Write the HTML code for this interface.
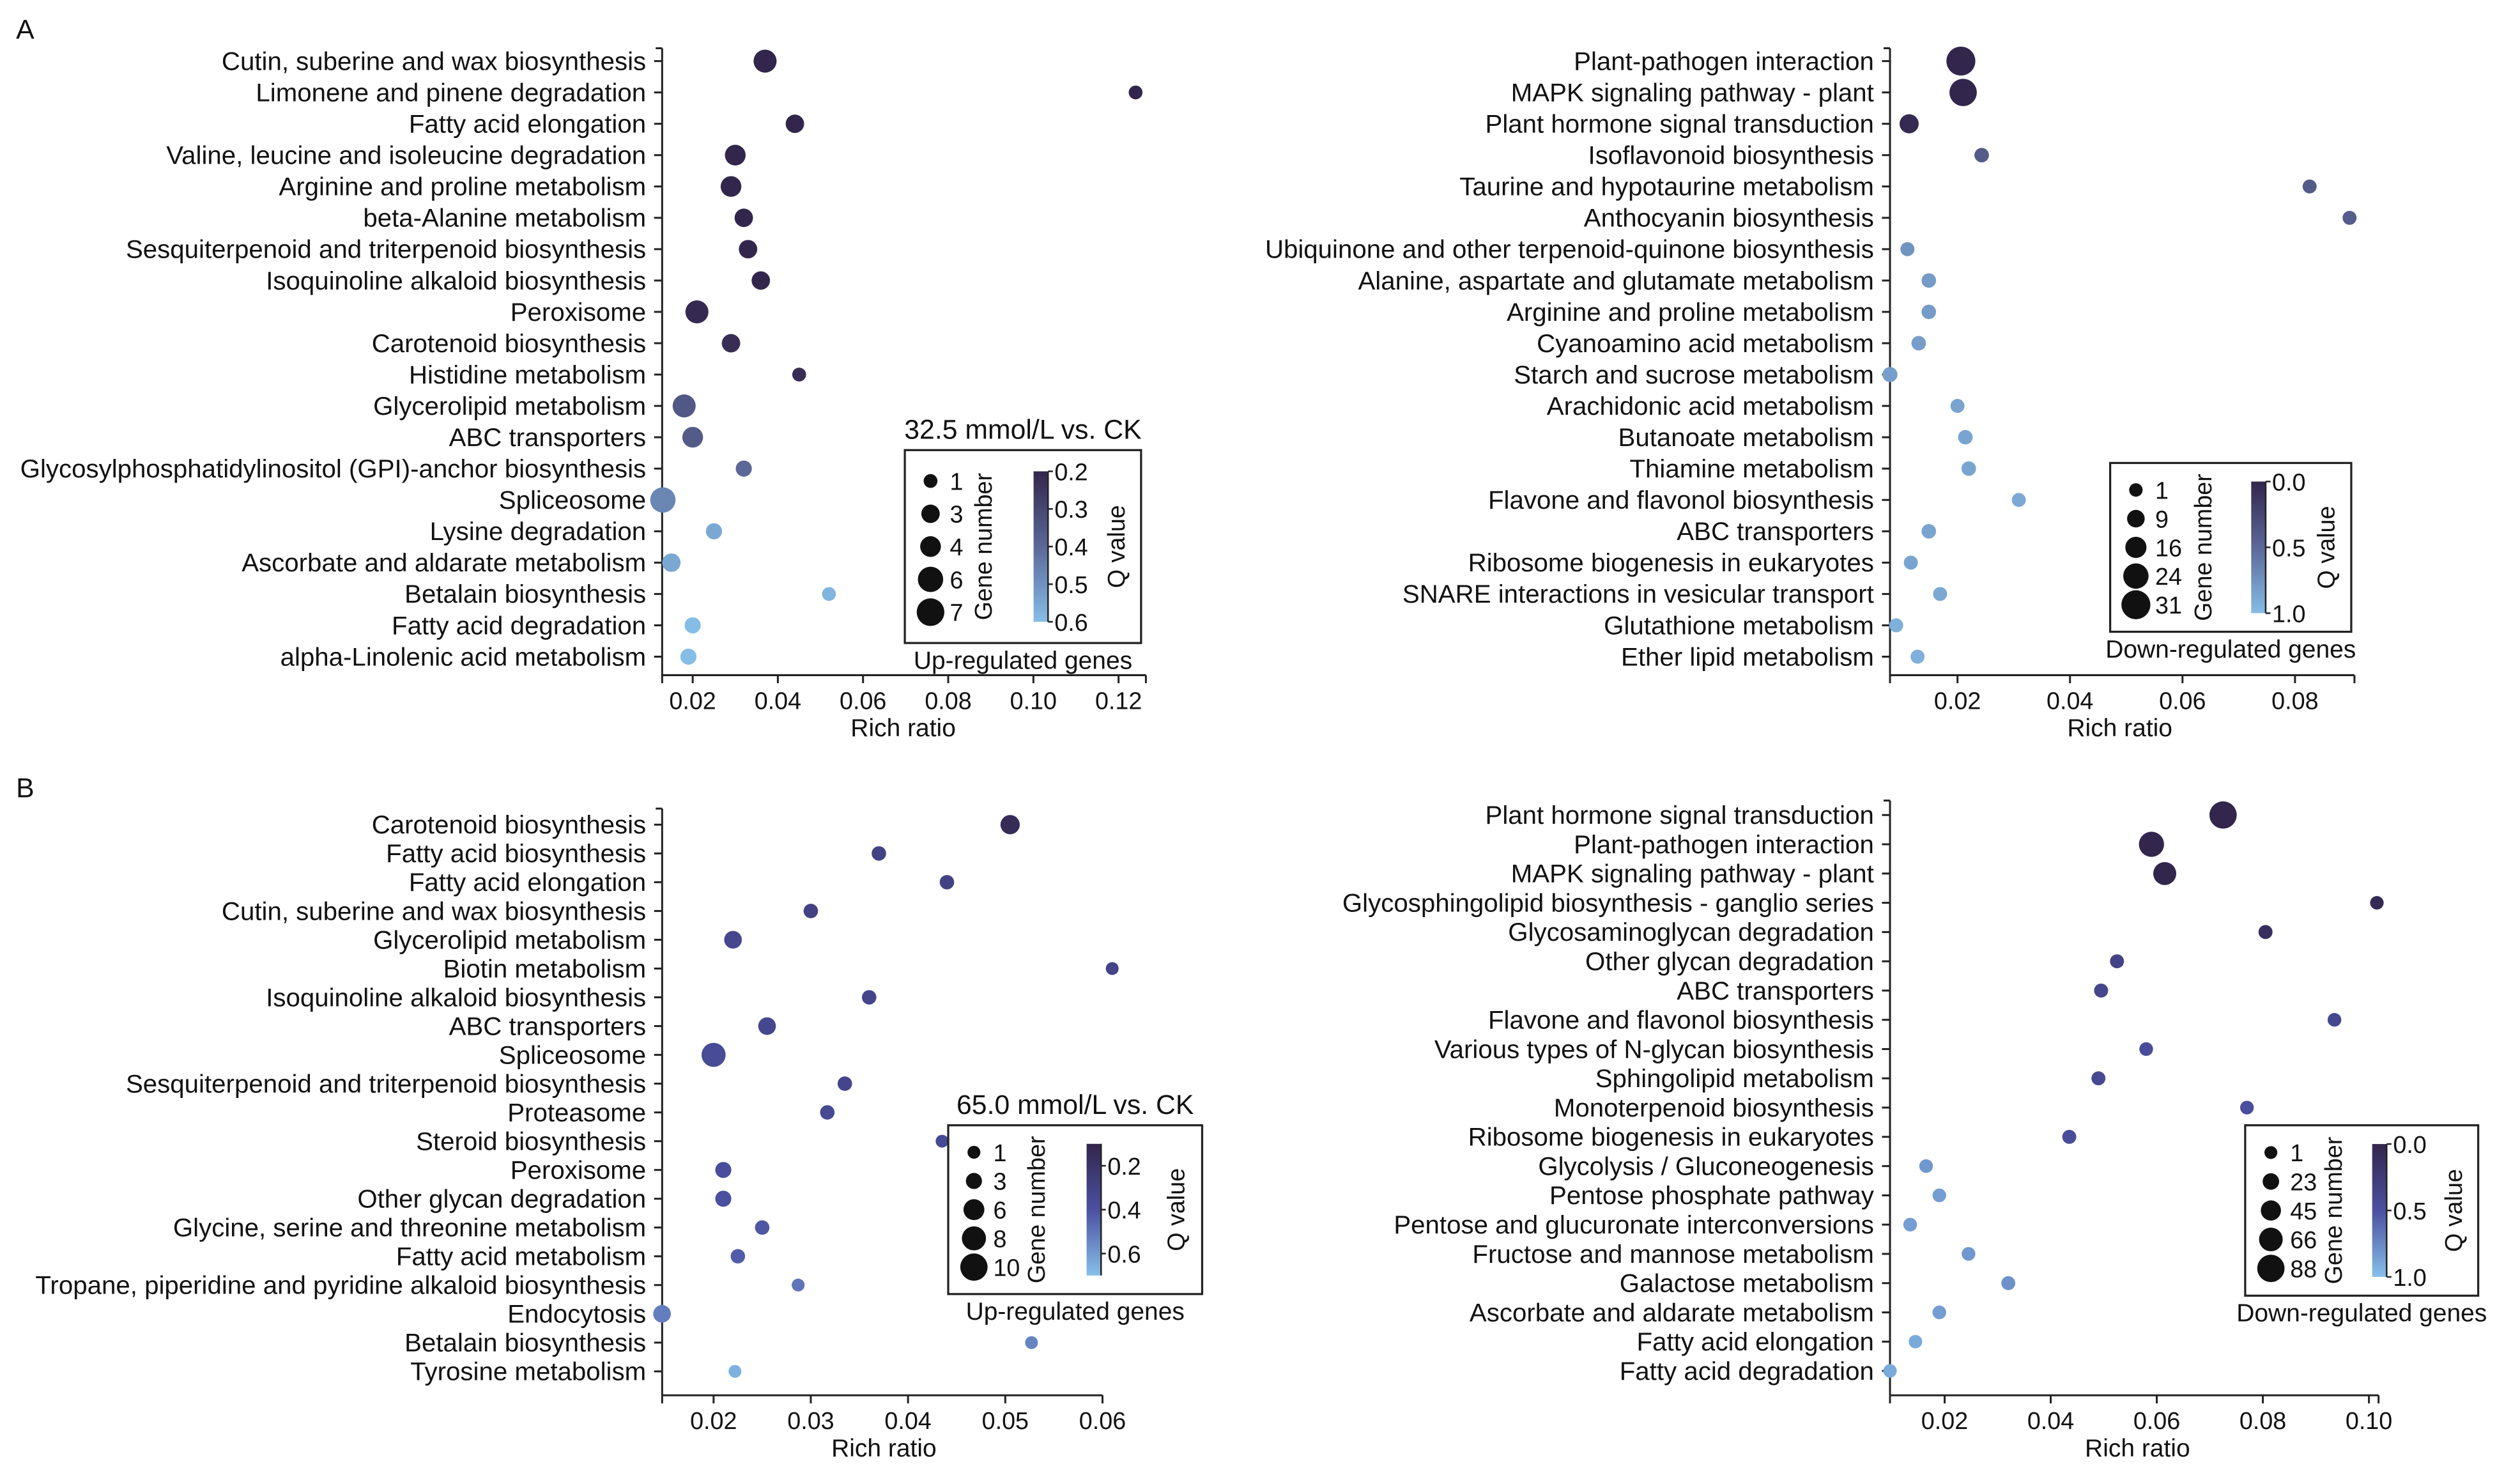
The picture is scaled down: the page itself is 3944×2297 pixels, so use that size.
<!DOCTYPE html>
<html><head><meta charset="utf-8"><style>
html,body{margin:0;padding:0;background:#fff}
svg{display:block}
text{font-family:"Liberation Sans",Arial,sans-serif;fill:#111}
</style></head><body>
<svg id="fig" xmlns="http://www.w3.org/2000/svg" width="3944" height="2297" viewBox="0 0 1568 913.2">
<defs>
<linearGradient id="gA" x1="0" y1="0" x2="0" y2="1"><stop offset="0" stop-color="#33264d"/><stop offset="0.5" stop-color="#5b6898"/><stop offset="1" stop-color="#86bde6"/></linearGradient>
<linearGradient id="gB" x1="0" y1="0" x2="0" y2="1"><stop offset="0" stop-color="#33264d"/><stop offset="0.5" stop-color="#4b50a0"/><stop offset="1" stop-color="#86c0e8"/></linearGradient>
</defs>
<rect width="1568" height="913.2" fill="#fff"/>
<text x="10" y="24" font-size="17">A</text>
<text x="10" y="496" font-size="17">B</text>
</svg>
<script>
// ---------- Panel A left (32.5 mmol/L, up) ----------
const aUpPathways=["Cutin, suberine and wax biosynthesis","Limonene and pinene degradation","Fatty acid elongation","Valine, leucine and isoleucine degradation","Arginine and proline metabolism","beta-Alanine metabolism","Sesquiterpenoid and triterpenoid biosynthesis","Isoquinoline alkaloid biosynthesis","Peroxisome","Carotenoid biosynthesis","Histidine metabolism","Glycerolipid metabolism","ABC transporters","Glycosylphosphatidylinositol (GPI)-anchor biosynthesis","Spliceosome","Lysine degradation","Ascorbate and aldarate metabolism","Betalain biosynthesis","Fatty acid degradation","alpha-Linolenic acid metabolism"];
const aUpRatio=[0.037,0.124,0.044,0.030,0.029,0.032,0.033,0.036,0.021,0.029,0.045,0.018,0.020,0.032,0.013,0.025,0.015,0.052,0.020,0.019];
const aUpGenes=[5,1,3,4,4,3,3,3,5,3,1,5,4,2,6,2,3,1,2,2];
const aUpQ=[0.2,0.2,0.2,0.2,0.2,0.2,0.2,0.2,0.21,0.22,0.22,0.35,0.36,0.4,0.47,0.55,0.55,0.58,0.6,0.6];
const aUpXTicks=[0.02,0.04,0.06,0.08,0.10,0.12];
const aUpXTickLabels=["0.02","0.04","0.06","0.08","0.10","0.12"];
const aUpSizeLegend=[1,3,4,6,7];
const aUpQTicks=[0.2,0.3,0.4,0.5,0.6];

// ---------- Panel A right (32.5 mmol/L, down) ----------
const aDnPathways=["Plant-pathogen interaction","MAPK signaling pathway - plant","Plant hormone signal transduction","Isoflavonoid biosynthesis","Taurine and hypotaurine metabolism","Anthocyanin biosynthesis","Ubiquinone and other terpenoid-quinone biosynthesis","Alanine, aspartate and glutamate metabolism","Arginine and proline metabolism","Cyanoamino acid metabolism","Starch and sucrose metabolism","Arachidonic acid metabolism","Butanoate metabolism","Thiamine metabolism","Flavone and flavonol biosynthesis","ABC transporters","Ribosome biogenesis in eukaryotes","SNARE interactions in vesicular transport","Glutathione metabolism","Ether lipid metabolism"];
const aDnRatio=[0.0206,0.021,0.0114,0.0243,0.0826,0.0897,0.0111,0.0149,0.0149,0.0131,0.008,0.020,0.0214,0.022,0.0309,0.0149,0.0117,0.0169,0.0091,0.0129];
const aDnGenes=[31,28,12,3,2,2,2,3,3,3,4,2,3,3,2,3,2,2,2,2];
const aDnQ=[0.0,0.0,0.03,0.4,0.4,0.42,0.75,0.8,0.8,0.82,0.82,0.85,0.85,0.85,0.88,0.85,0.85,0.88,0.92,0.92];
const aDnXTicks=[0.02,0.04,0.06,0.08];
const aDnXTickLabels=["0.02","0.04","0.06","0.08"];
const aDnSizeLegend=[1,9,16,24,31];
const aDnQTicks=[0.0,0.5,1.0];

// ---------- Panel B left (65.0 mmol/L, up) ----------
const bUpPathways=["Carotenoid biosynthesis","Fatty acid biosynthesis","Fatty acid elongation","Cutin, suberine and wax biosynthesis","Glycerolipid metabolism","Biotin metabolism","Isoquinoline alkaloid biosynthesis","ABC transporters","Spliceosome","Sesquiterpenoid and triterpenoid biosynthesis","Proteasome","Steroid biosynthesis","Peroxisome","Other glycan degradation","Glycine, serine and threonine metabolism","Fatty acid metabolism","Tropane, piperidine and pyridine alkaloid biosynthesis","Endocytosis","Betalain biosynthesis","Tyrosine metabolism"];
const bUpRatio=[0.0505,0.037,0.044,0.030,0.022,0.061,0.036,0.0255,0.020,0.0335,0.0317,0.0435,0.021,0.021,0.025,0.0225,0.0287,0.0147,0.0527,0.0222];
const bUpGenes=[5,2,2,2,4,1,2,4,8,2,2,1,3,3,2,2,1,4,1,1];
const bUpQ=[0.1,0.3,0.3,0.3,0.35,0.32,0.33,0.35,0.38,0.33,0.36,0.37,0.4,0.42,0.45,0.47,0.55,0.58,0.6,0.75];
const bUpXTicks=[0.02,0.03,0.04,0.05,0.06];
const bUpXTickLabels=["0.02","0.03","0.04","0.05","0.06"];
const bUpSizeLegend=[1,3,6,8,10];
const bUpQTicks=[0.2,0.4,0.6];

// ---------- Panel B right (65.0 mmol/L, down) ----------
const bDnPathways=["Plant hormone signal transduction","Plant-pathogen interaction","MAPK signaling pathway - plant","Glycosphingolipid biosynthesis - ganglio series","Glycosaminoglycan degradation","Other glycan degradation","ABC transporters","Flavone and flavonol biosynthesis","Various types of N-glycan biosynthesis","Sphingolipid metabolism","Monoterpenoid biosynthesis","Ribosome biogenesis in eukaryotes","Glycolysis / Gluconeogenesis","Pentose phosphate pathway","Pentose and glucuronate interconversions","Fructose and mannose metabolism","Galactose metabolism","Ascorbate and aldarate metabolism","Fatty acid elongation","Fatty acid degradation"];
const bDnRatio=[0.0725,0.059,0.0615,0.1015,0.0805,0.0525,0.0495,0.0935,0.058,0.049,0.077,0.0435,0.0165,0.019,0.0135,0.0245,0.032,0.019,0.0145,0.0097];
const bDnGenes=[88,75,62,5,8,8,8,6,6,8,6,8,6,6,6,6,8,6,5,5];
const bDnQ=[0.0,0.0,0.0,0.05,0.1,0.35,0.38,0.4,0.45,0.42,0.48,0.45,0.82,0.85,0.85,0.82,0.8,0.85,0.9,0.9];
const bDnXTicks=[0.02,0.04,0.06,0.08,0.10];
const bDnXTickLabels=["0.02","0.04","0.06","0.08","0.10"];
const bDnSizeLegend=[1,23,45,66,88];
const bDnQTicks=[0.0,0.5,1.0];

const NS="http://www.w3.org/2000/svg";
const svg=document.getElementById('fig');
function mk(tag,attrs,parent){const e=document.createElementNS(NS,tag);for(const k in attrs)e.setAttribute(k,attrs[k]);(parent||svg).appendChild(e);return e;}
function hex(c){return [parseInt(c.substr(1,2),16),parseInt(c.substr(3,2),16),parseInt(c.substr(5,2),16)];}
function cmap(stops,t){t=Math.max(0,Math.min(1,t));const seg=t<0.5?0:1;const lt=t<0.5?t*2:(t-0.5)*2;const a=hex(stops[seg]),b=hex(stops[seg+1]);return 'rgb('+a.map((v,i)=>Math.round(v+(b[i]-v)*lt)).join(',')+')';}

function panel(p,pathways,ratio,genes,qv,xticks,xlabels,sizeLeg,qticks){
  const g=mk('g',{});
  
  
  const xs=v=>p.x0+(v-p.v0)*p.k;
  const ys=i=>p.yTop+i*p.dy;
  const rs=n=>p.rmin+(p.rmax-p.rmin)*(n-sizeLeg[0])/(sizeLeg[sizeLeg.length-1]-sizeLeg[0]);
  const cs=q=>cmap(p.stops,(q-p.qmin)/(p.qmax-p.qmin));
  const ya=mk('line',{x1:p.ax,y1:p.yAxTop,x2:p.ax,y2:p.axY,stroke:'#222','stroke-width':1.2},g);
  
  
  mk('line',{x1:p.ax-4,y1:p.yAxTop,x2:p.ax,y2:p.yAxTop,stroke:'#222','stroke-width':1.2},g);
  const xa=mk('line',{x1:p.ax,y1:p.axY,x2:p.axEnd,y2:p.axY,stroke:'#222','stroke-width':1.2},g);
  
  
  mk('line',{x1:p.ax,y1:p.axY,x2:p.ax,y2:p.axY+5,stroke:'#222','stroke-width':1.2},g);
  mk('line',{x1:p.axEnd,y1:p.axY,x2:p.axEnd,y2:p.axY+5,stroke:'#222','stroke-width':1.2},g);
  xticks.forEach((v,i)=>{
    mk('line',{x1:xs(v),y1:p.axY,x2:xs(v),y2:p.axY+5,stroke:'#222','stroke-width':1.2},g);
    const t=mk('text',{x:xs(v),y:p.axY+21,'font-size':15,'text-anchor':'middle'},g);
    t.textContent=xlabels[i];
    
    
  });
  const xt=mk('text',{x:p.xTitleX,y:p.axY+38,'font-size':15.5,'text-anchor':'middle'},g);
  xt.textContent='Rich ratio';
  
  
  pathways.forEach((name,i)=>{
    mk('line',{x1:p.ax-5,y1:ys(i),x2:p.ax,y2:ys(i),stroke:'#222','stroke-width':1.2},g);
    const t=mk('text',{x:p.ax-10,y:ys(i)+5.5,'font-size':16,'text-anchor':'end'},g);
    t.textContent=name;
    
    
  });
  pathways.forEach((name,i)=>{
    const c=mk('circle',{cx:xs(ratio[i]),cy:ys(i),r:rs(genes[i]),fill:cs(qv[i])},g);
    
    
  });
  const L=p.leg;
  const lg=mk('g',{},g);
  
  
  mk('rect',{x:L.x,y:L.y,width:L.w,height:L.h,fill:'#fff',stroke:'#222','stroke-width':1.3},lg);
  if(p.title){const tt=mk('text',{x:L.x+L.w/2,y:L.y-7,'font-size':17,'text-anchor':'middle'},lg);tt.textContent=p.title;
    
    }
  const ft=mk('text',{x:L.x+L.w/2,y:L.y+L.h+16,'font-size':15.5,'text-anchor':'middle'},lg);
  ft.textContent=p.footer;
  
  
  const top=L.y+L.h*0.16,bot=L.y+L.h*0.84;
  sizeLeg.forEach((n,i)=>{
    const cy=top+(bot-top)*i/(sizeLeg.length-1);
    const c=mk('circle',{cx:L.x+16,cy:cy,r:rs(n),fill:'#111'},lg);
    
    
    const t=mk('text',{x:L.x+28,y:cy+5.5,'font-size':15},lg);t.textContent=n;
  });
  const gx=L.x+L.gx,gy=L.y+L.h/2;
  const gn=mk('text',{x:gx,y:gy,'font-size':15,'text-anchor':'middle',transform:`rotate(-90 ${gx} ${gy})`},lg);gn.textContent='Gene number';
  
  
  const bx=L.x+L.w*L.bxf,bt=L.y+L.h*0.11,bb=L.y+L.h*0.89;
  const cb=mk('rect',{x:bx,y:bt,width:9,height:bb-bt,fill:`url(#${p.grad})`},lg);
  
  
  mk('line',{x1:bx+9,y1:bt,x2:bx+9,y2:bb,stroke:'#222','stroke-width':1},lg);
  qticks.forEach(q=>{
    const yy=bt+(bb-bt)*(q-p.cbMin)/(p.cbMax-p.cbMin);
    mk('line',{x1:bx+9,y1:yy,x2:bx+12,y2:yy,stroke:'#222','stroke-width':1},lg);
    const t=mk('text',{x:bx+13,y:yy+5.5,'font-size':15},lg);t.textContent=q.toFixed(1);
  });
  const qx=L.x+L.w*0.93;
  const qt=mk('text',{x:qx,y:gy,'font-size':15,'text-anchor':'middle',transform:`rotate(-90 ${qx} ${gy})`},lg);qt.textContent='Q value';
  
  
}

panel({name:'panel-a-up',x0:431,v0:0.02,k:2650,yTop:38,dy:19.5,ax:412,axEnd:713,axY:420,yAxTop:30,xTitleX:562,rmin:4.3,rmax:8.6,stops:['#33264d','#5b6898','#86bde6'],qmin:0.2,qmax:0.6,grad:'gA',cbMin:0.2,cbMax:0.6,
  leg:{x:563,y:280,w:147,h:120,gx:54,bxf:0.545},title:'32.5 mmol/L vs. CK',footer:'Up-regulated genes'},aUpPathways,aUpRatio,aUpGenes,aUpQ,aUpXTicks,aUpXTickLabels,aUpSizeLegend,aUpQTicks);
panel({name:'panel-a-down',x0:1218,v0:0.02,k:3500,yTop:38,dy:19.5,ax:1176,axEnd:1465,axY:420,yAxTop:30,xTitleX:1319,rmin:4.2,rmax:9,stops:['#33264d','#5b6898','#86bde6'],qmin:0,qmax:1,grad:'gA',cbMin:0,cbMax:1,
  leg:{x:1313,y:288,w:150,h:105,gx:63,bxf:0.585},title:null,footer:'Down-regulated genes'},aDnPathways,aDnRatio,aDnGenes,aDnQ,aDnXTicks,aDnXTickLabels,aDnSizeLegend,aDnQTicks);
panel({name:'panel-b-up',x0:444,v0:0.02,k:6050,yTop:513,dy:17.9,ax:412,axEnd:686,axY:868,yAxTop:503,xTitleX:550,rmin:4,rmax:8.5,stops:['#33264d','#4b50a0','#86c0e8'],qmin:0.05,qmax:0.8,grad:'gB',cbMin:0.1,cbMax:0.7,
  leg:{x:590,y:700,w:158,h:105,gx:60,bxf:0.545},title:'65.0 mmol/L vs. CK',footer:'Up-regulated genes'},bUpPathways,bUpRatio,bUpGenes,bUpQ,bUpXTicks,bUpXTickLabels,bUpSizeLegend,bUpQTicks);
panel({name:'panel-b-down',x0:1210,v0:0.02,k:3300,yTop:507,dy:18.2,ax:1176,axEnd:1480,axY:868,yAxTop:498,xTitleX:1330,rmin:4,rmax:8.5,stops:['#33264d','#4b50a0','#86c0e8'],qmin:0,qmax:1,grad:'gB',cbMin:0,cbMax:1,
  leg:{x:1397,y:700,w:145,h:106,gx:60,bxf:0.545},title:null,footer:'Down-regulated genes'},bDnPathways,bDnRatio,bDnGenes,bDnQ,bDnXTicks,bDnXTickLabels,bDnSizeLegend,bDnQTicks);
</script>
</body></html>
